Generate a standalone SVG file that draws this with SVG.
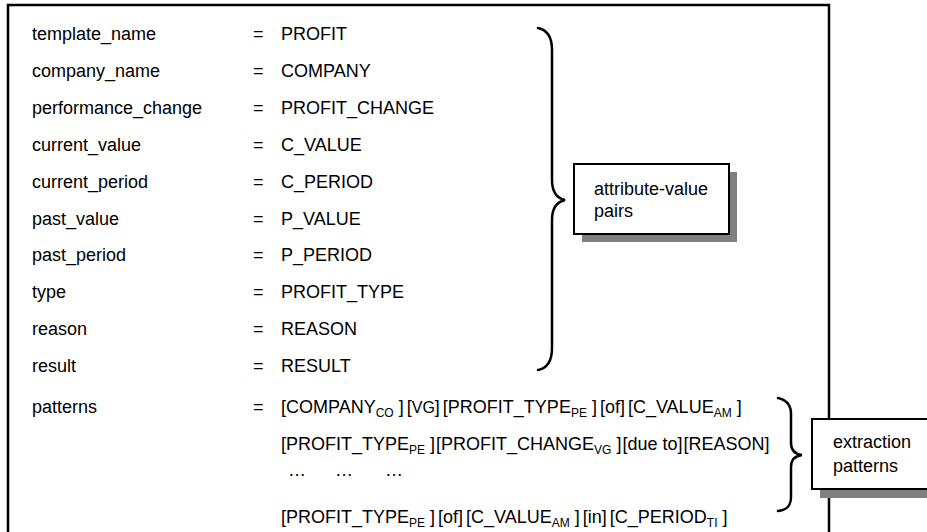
<svg xmlns="http://www.w3.org/2000/svg" width="927" height="532" viewBox="0 0 927 532">
<style>
text{font-family:"Liberation Sans",Arial,Helvetica,sans-serif;font-size:18px;fill:#000}
.sub{font-size:12px}
.vg{font-size:16px}
.brace{fill:none;stroke:#000;stroke-width:2.5;stroke-linecap:round}
.frame{fill:none;stroke:#000;stroke-width:2.5}
.box{fill:#fff;stroke:#000;stroke-width:2}
.shadow{fill:#808080}
</style>
<rect class="frame" x="8" y="5" width="821" height="545"/>
<g id="attributes">
<text x="32" y="40">template_name</text><text x="253" y="40">=</text><text x="281" y="40">PROFIT</text>
<text x="32" y="76.9">company_name</text><text x="253" y="76.9">=</text><text x="281" y="76.9">COMPANY</text>
<text x="32" y="113.8">performance_change</text><text x="253" y="113.8">=</text><text x="281" y="113.8">PROFIT_CHANGE</text>
<text x="32" y="150.7">current_value</text><text x="253" y="150.7">=</text><text x="281" y="150.7">C_VALUE</text>
<text x="32" y="187.6">current_period</text><text x="253" y="187.6">=</text><text x="281" y="187.6">C_PERIOD</text>
<text x="32" y="224.5">past_value</text><text x="253" y="224.5">=</text><text x="281" y="224.5">P_VALUE</text>
<text x="32" y="261.4">past_period</text><text x="253" y="261.4">=</text><text x="281" y="261.4">P_PERIOD</text>
<text x="32" y="298.3">type</text><text x="253" y="298.3">=</text><text x="281" y="298.3">PROFIT_TYPE</text>
<text x="32" y="335.2">reason</text><text x="253" y="335.2">=</text><text x="281" y="335.2">REASON</text>
<text x="32" y="372.1">result</text><text x="253" y="372.1">=</text><text x="281" y="372.1">RESULT</text>
</g>
<g id="patterns">
<text x="32" y="413">patterns</text><text x="253" y="413">=</text>
<text x="281" y="413">[COMPANY<tspan class="sub" dy="4">CO</tspan><tspan dx="5" dy="-4">]</tspan><tspan dx="3">[</tspan><tspan class="vg">VG</tspan><tspan>]</tspan><tspan dx="3">[PROFIT_TYPE</tspan><tspan class="sub" dy="4">PE</tspan><tspan dx="5" dy="-4">]</tspan><tspan dx="3">[of]</tspan><tspan dx="3">[C_VALUE</tspan><tspan class="sub" dy="4">AM</tspan><tspan dx="5" dy="-4">]</tspan></text>
<text x="281" y="450">[PROFIT_TYPE<tspan class="sub" dy="4">PE</tspan><tspan dx="5" dy="-4">]</tspan><tspan dx="1">[PROFIT_CHANGE</tspan><tspan class="sub" dy="4">VG</tspan><tspan dx="5" dy="-4">]</tspan><tspan dx="1">[due to]</tspan><tspan dx="1">[REASON]</tspan></text>
<text x="288" y="476">…</text><text x="335" y="476">…</text><text x="385" y="476">…</text>
<text x="281" y="523">[PROFIT_TYPE<tspan class="sub" dy="4">PE</tspan><tspan dx="5" dy="-4">]</tspan><tspan dx="3">[of]</tspan><tspan dx="3">[C_VALUE</tspan><tspan class="sub" dy="4">AM</tspan><tspan dx="5" dy="-4">]</tspan><tspan dx="3">[in]</tspan><tspan dx="3">[C_PERIOD</tspan><tspan class="sub" dy="4">TI</tspan><tspan dx="5" dy="-4">]</tspan></text>
</g>
<g id="connectors">
<path class="brace" d="M538,28 C548,30 552,38 552,50 L552,180 C552,192 556,198 565,200 C556,202 552,208 552,220 L552,348 C552,360 548,368 538,370"/>
<path class="brace" d="M778,398 C787,400 791,405 791,414 L791,443 C791,450 794,454 802,455 C794,456 791,460 791,467 L791,497 C791,506 787,510 778,511"/>
</g>
<g id="attribute-value-pairs">
<rect class="shadow" x="582" y="172" width="155" height="70"/>
<rect class="box" x="574" y="164" width="155" height="70"/>
<text x="594" y="195">attribute-value</text>
<text x="594" y="217">pairs</text>
</g>
<g id="extraction-patterns">
<rect class="shadow" x="820" y="427" width="120" height="71"/>
<rect class="box" x="812" y="419" width="130" height="70"/>
<text x="833" y="448">extraction</text>
<text x="833" y="472">patterns</text>
</g>
</svg>
